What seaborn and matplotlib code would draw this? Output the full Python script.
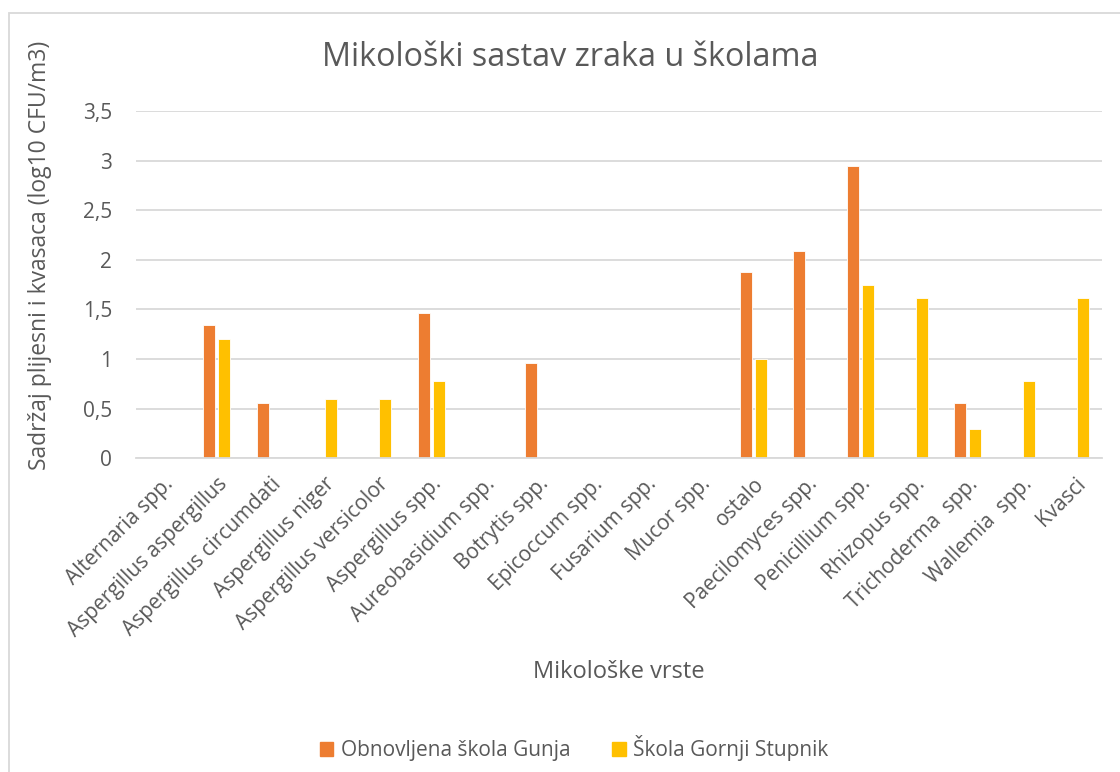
import pandas as pd
import matplotlib.pyplot as plt
import seaborn as sns
from matplotlib.patches import Rectangle

vrste = ["Alternaria spp.", "Aspergillus aspergillus", "Aspergillus circumdati",
         "Aspergillus niger", "Aspergillus versicolor", "Aspergillus spp.",
         "Aureobasidium spp.", "Botrytis spp.", "Epicoccum spp.", "Fusarium spp.",
         "Mucor spp.", "ostalo", "Paecilomyces spp.", "Penicillium spp.",
         "Rhizopus spp.", "Trichoderma  spp.", "Wallemia  spp.", "Kvasci"]
gunja = [0, 1.34, 0.56, 0, 0, 1.46, 0, 0.96, 0, 0, 0, 1.88, 2.09, 2.95, 0, 0.56, 0, 0]
stupnik = [0, 1.2, 0, 0.6, 0.6, 0.78, 0, 0, 0, 0, 0, 1.0, 0, 1.75, 1.62, 0.3, 0.78, 1.62]
skole = ["Obnovljena škola Gunja", "Škola Gornji Stupnik"]
boje = ["#ED7D31", "#FFC000"]
yticks = [0, 0.5, 1, 1.5, 2, 2.5, 3, 3.5]

df = pd.DataFrame({"vrsta": vrste, skole[0]: gunja, skole[1]: stupnik})
df = df.melt(id_vars="vrsta", var_name="skola", value_name="vrijednost")

sns.set_style("white")
plt.rcParams["font.family"] = ["Open Sans", "DejaVu Sans"]
siva = "#595959"

fig = plt.figure(figsize=(11.2, 7.72), dpi=100)
ax = fig.add_axes([0.1214, 0.4063, 0.8625, 0.4499])

sns.barplot(data=df, x="vrsta", y="vrijednost", hue="skola", order=vrste,
            hue_order=skole, palette=boje, saturation=1, width=0.56, gap=0.2,
            edgecolor="white", linewidth=0.6, errorbar=None, ax=ax)

ax.set_xlim(-0.5, len(vrste) - 0.5)
ax.set_ylim(0, 3.5)
ax.set_yticks(yticks)
ax.set_yticklabels([f"{v:g}".replace(".", ",") for v in yticks], color=siva, fontsize=15)
ax.set_xticks(range(len(vrste)))
ax.set_xticklabels(vrste, rotation=45, ha="right", rotation_mode="anchor",
                   color=siva, fontsize=15)
ax.tick_params(axis="y", length=0, pad=17)
ax.tick_params(axis="x", length=0, pad=11)
ax.grid(axis="y", color="#D9D9D9", linewidth=1.3)
ax.set_axisbelow(True)
for s in ["top", "right", "left"]:
    ax.spines[s].set_visible(False)
ax.spines["bottom"].set_color("#D9D9D9")
ax.spines["bottom"].set_linewidth(1.3)
ax.set_xlabel("")
ax.set_ylabel("")

ax.get_legend().remove()
handles = [Rectangle((0, 0), 1, 1, color=c) for c in boje]
fig.legend(handles, skole, loc="center", bbox_to_anchor=(574 / 1120, 1 - 748 / 772),
           ncol=2, frameon=False, fontsize=15, handlelength=0.65, handleheight=0.65,
           columnspacing=2.0, handletextpad=0.35, labelcolor=siva)

fig.text(570 / 1120, 1 - 57 / 772, "Mikološki sastav zraka u školama", ha="center",
         va="center", fontsize=23.3, color=siva)
fig.text(40 / 1120, 1 - 255 / 772, "Sadržaj plijesni i kvasaca (log10 CFU/m3)",
         rotation=90, ha="center", va="center", fontsize=16.5, color=siva)
fig.text(619 / 1120, 1 - 672 / 772, "Mikološke vrste", ha="center", va="center",
         fontsize=17, color=siva)

fig.patches.append(Rectangle((9 / 1120, -0.05), 1.2, 1.05 - 12.5 / 772,
                             transform=fig.transFigure, fill=False,
                             edgecolor="#D9D9D9", linewidth=1.3))

fig.savefig("out.png", dpi=100)
